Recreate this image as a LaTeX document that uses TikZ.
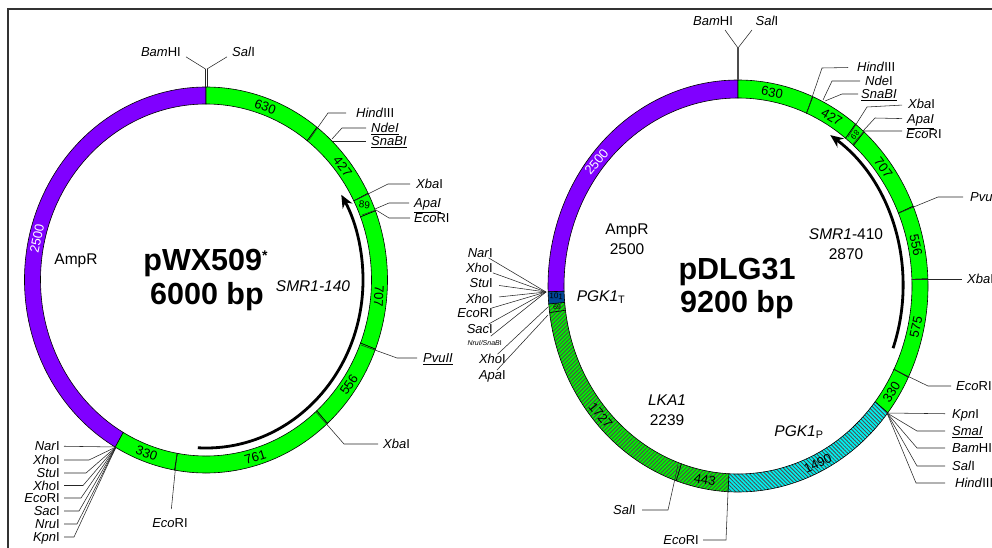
\documentclass[tikz,border=0pt]{standalone}
\usepackage{fontspec}
\usepackage{xcolor}
\setmainfont{Liberation Sans}
\usetikzlibrary{arrows.meta,patterns.meta}

\definecolor{ringgreen}{RGB}{0,255,0}
\definecolor{ringpurple}{RGB}{128,0,255}
\definecolor{lkagreen}{RGB}{0,240,0}
\definecolor{pgkcyan}{RGB}{0,240,240}
\definecolor{termblue}{RGB}{0,70,150}
\definecolor{framegray}{RGB}{51,51,51}

\newlength{\rxo}\newlength{\ryo}\newlength{\rxi}\newlength{\ryi}\newlength{\rxm}\newlength{\rym}
\newcommand{\setring}[4]{%
  \setlength{\rxo}{#1pt}\setlength{\ryo}{#2pt}\setlength{\rxi}{#3pt}\setlength{\ryi}{#4pt}%
  \setlength{\rxm}{\dimexpr(\rxo+\rxi)/2\relax}\setlength{\rym}{\dimexpr(\ryo+\ryi)/2\relax}}
\newcommand{\ringseg}[3]{%
  \draw[seg,#3] ({90-(#1)}:{\rxo} and {\ryo}) arc[start angle={90-(#1)},end angle={90-(#2)},x radius=\rxo,y radius=\ryo]
    -- ({90-(#2)}:{\rxi} and {\ryi}) arc[start angle={90-(#2)},end angle={90-(#1)},x radius=\rxi,y radius=\ryi] -- cycle;}
\newcommand{\ringnum}[4][]{%
  \node[num,rotate=#2,#1] at ({90-(#3)}:{\rxm} and {\rym}) {#4};}

\begin{document}
\begin{tikzpicture}[
  x=1pt, y=-1pt,
  seg/.style={draw=black, line width=0.6pt},
  plain/.style={fill=ringgreen},
  amp/.style={fill=ringpurple},
  lka/.style={preaction={fill=lkagreen}, pattern={Lines[angle=45,distance=2.8pt,line width=0.85pt]}, pattern color=black!70},
  pgk/.style={preaction={fill=pgkcyan}, pattern={Lines[angle=-45,distance=2.8pt,line width=0.85pt]}, pattern color=black!70},
  term/.style={fill=termblue},
  num/.style={font=\fontsize{13}{13}\selectfont, inner sep=0pt},
  site/.style={font=\fontsize{13}{13}\selectfont, text height=9.3pt, text depth=0pt, inner ysep=0pt, inner xsep=5pt},
  gene/.style={font=\fontsize{15.5}{16}\selectfont, inner sep=0pt, align=center},
  title/.style={font=\fontsize{30.5}{30}\bfseries\selectfont, inner sep=0pt},
  lead/.style={draw=black!85, line width=0.55pt},
  smr/.style={draw=black, line width=2.8pt, -{Stealth[length=13pt,width=11pt]}},
]
\useasboundingbox (0,0) rectangle (992,548);
\draw[framegray, line width=2pt] (8,548) -- (8,9) -- (992,9);

% pWX509
\begin{scope}[shift={(206,280)}]
  \setring{181.5}{193}{165.5}{176}
  \ringseg{-150}{0}{amp}
  \ringseg{0}{37.7}{plain}
  \ringseg{37.7}{63.3}{plain}
  \ringseg{63.3}{69}{plain}
  \ringseg{69}{111}{plain}
  \ringseg{111}{138}{plain}
  \ringseg{138}{190}{plain}
  \ringseg{190}{210}{plain}
  \ringnum{-20}{20}{630}
  \ringnum{-52}{52}{427}
  \ringnum[font=\fontsize{10}{10}\selectfont]{-5}{66}{89}
  \ringnum{-92}{95}{707}
  \ringnum{56}{124.5}{556}
  \ringnum{17}{163.5}{761}
  \ringnum{-20}{200}{330}
  \ringnum[text=white]{78}{283}{2500}
  \draw[smr] ({90-183}:157pt and 168pt) arc[start angle={90-183},end angle={90-59.5},x radius=157pt,y radius=168pt];
\end{scope}
\draw[lead] (205.2,87) -- (205.2,69);
\draw[lead] (207.4,87) -- (207.4,69);

\coordinate (r1) at (309,140);
\coordinate (r2) at (332,139);
\coordinate (r3) at (333,141);
\coordinate (r4) at (356,200);
\coordinate (r5) at (375,209);
\coordinate (r6) at (362,215);
\coordinate (r7) at (361,345);
\coordinate (r8) at (316,412);
\coordinate (r9) at (177,453);
\coordinate (r0) at (116,447);

\node[site, anchor=east] (s1) at (186,52) {\textit{Bam}HI};
\node[site, anchor=west] (s2) at (227,52) {\textit{Sal}I};
\node[site, anchor=west, inner xsep=10pt] (s3) at (346,113) {\textit{Hind}III};
\node[site, anchor=west] (s4) at (366,128) {\underline{\textit{NdeI}}};
\node[site, anchor=west] (s5) at (366,141) {\underline{\textit{SnaBI}}};
\node[site, anchor=west, inner xsep=6pt] (s6) at (410,184) {\textit{Xba}I};
\node[site, anchor=west] (s7) at (409,203) {\underline{\textit{ApaI}}};
\node[site, anchor=west, inner xsep=4pt] (s8) at (410,218) {\textit{Eco}RI};
\node[site, anchor=west, inner xsep=6pt] (s9) at (417,358) {\underline{\textit{PvuII}}};
\node[site, anchor=west] (s10) at (378,444) {\textit{Xba}I};
\node[site, anchor=north, inner ysep=8.5pt] (s11) at (170,509) {\textit{Eco}RI};
\node[site, anchor=east, inner xsep=4pt] (s12) at (64,446) {\textit{Nar}I};
\node[site, anchor=east, inner xsep=4pt] (s13) at (64,460) {\textit{Xho}I};
\node[site, anchor=east, inner xsep=4pt] (s14) at (64,473) {\textit{Stu}I};
\node[site, anchor=east, inner xsep=4pt] (s15) at (64,485.5) {\textit{Xho}I};
\node[site, anchor=east, inner xsep=4pt] (s16) at (64,498) {\textit{Eco}RI};
\node[site, anchor=east, inner xsep=4pt] (s17) at (64,511) {\textit{Sac}I};
\node[site, anchor=east, inner xsep=4pt] (s18) at (64,524) {\textit{Nru}I};
\node[site, anchor=east, inner xsep=4pt] (s19) at (64,537) {\textit{Kpn}I};

\draw[lead] (s1.south east) -- (205.5,69);
\draw[lead] (s2.south west) -- (207,69);
\draw[lead] (r1) -- (328,113) -- (s3);
\draw[lead] (r2) -- (342,128) -- (s4);
\draw[lead] (r3) -- (s5);
\draw[lead] (r4) -- (388,184) -- (s6);
\draw[lead] (r5) -- (389,203) -- (s7);
\draw[lead] (r6) -- (376,210) -- (389,218) -- (s8);
\draw[lead] (r7) -- (397,358) -- (s9);
\draw[lead] (r8) -- (344,444) -- (s10);
\draw[lead] (r9) -- (s11);
\draw[lead] (r0) -- (s12);
\draw[lead] (r0) -- (89,460) -- (s13);
\draw[lead] (r0) -- (86,473) -- (s14);
\draw[lead] (r0) -- (83,485.5) -- (s15);
\draw[lead] (r0) -- (81,498) -- (s16);
\draw[lead] (r0) -- (79,511) -- (s17);
\draw[lead] (r0) -- (77,524) -- (s18);
\draw[lead] (r0) -- (74,537) -- (s19);

\node[gene] (n1) at (76,261) {AmpR};
\node[gene] (n2) at (313,286) {\textit{SMR1-140}};
\node[title] (n3) at (205.5,263) {pWX509\raisebox{10pt}{\fontsize{14}{14}\selectfont *}};
\node[title] (n4) at (207,297) {6000 bp};

% pDLG31
\begin{scope}[shift={(738,286)}]
  \setring{190}{206}{174}{188}
  \ringseg{268.4}{360}{amp}
  \ringseg{0}{23.2}{plain}
  \ringseg{23.2}{38.2}{plain}
  \ringseg{38.2}{41.6}{plain}
  \ringseg{41.6}{67.2}{plain}
  \ringseg{67.2}{88}{plain}
  \ringseg{88}{116.3}{plain}
  \ringseg{116.3}{128}{plain}
  \ringseg{128}{183}{pgk}
  \ringseg{183}{199}{lka}
  \ringseg{199}{262.6}{lka}
  \ringseg{262.6}{265}{lka}
  \ringseg{265}{268.4}{term}
  \ringnum{-11}{10.8}{630}
  \ringnum{-31}{31}{427}
  \ringnum[font=\fontsize{8}{8}\selectfont]{-130}{40}{89}
  \ringnum{-53}{53}{707}
  \ringnum{-78}{78}{556}
  \ringnum{78}{102}{575}
  \ringnum{58}{122.5}{330}
  \ringnum{25}{154}{1490}
  \ringnum{-11}{190.5}{443}
  \ringnum{-50}{229}{1727}
  \ringnum[font=\fontsize{8}{8}\selectfont]{-3}{267}{101}
  \ringnum[font=\fontsize{7}{7}\selectfont]{-3}{263.8}{69}
  \ringnum[text=white]{50}{309}{2500}
  \draw[smr] ({90-110}:165pt and 182pt) arc[start angle={90-110},end angle={90-34},x radius=165pt,y radius=182pt];
\end{scope}
\draw[draw=black!70, line width=1.4pt] (738,80) -- (738,48);

\coordinate (q1) at (807,112);
\coordinate (q2) at (823,100);
\coordinate (q3) at (825,101);
\coordinate (q4) at (848,137);
\coordinate (q5) at (863,131);
\coordinate (q6) at (853,144);
\coordinate (q7) at (899,213);
\coordinate (q8) at (912,279);
\coordinate (q9) at (893,369);
\coordinate (q0) at (887,413);
\coordinate (q10) at (728,492);
\coordinate (q11) at (678,465);
\coordinate (q12) at (546,292);
\coordinate (q13) at (548,307);
\coordinate (q14) at (548,315);
\coordinate (yleft) at (725,30);
\coordinate (yright) at (752,30);

\node[site] (t1) at (713,21) {\textit{Bam}HI};
\node[site] (t2) at (767,21) {\textit{Sal}I};
\node[site, anchor=west, inner xsep=9pt] (t3) at (848,67) {\textit{Hind}III};
\node[site, anchor=west] (t4) at (860,81) {\textit{Nde}I};
\node[site, anchor=west, inner xsep=3pt] (t5) at (858,94) {\underline{\textit{SnaBI}}};
\node[site, anchor=west, inner xsep=6pt] (t6) at (902,104) {\textit{Xba}I};
\node[site, anchor=west] (t7) at (902,119) {\underline{\textit{ApaI}}};
\node[site, anchor=west, inner xsep=4pt] (t8) at (902,134) {\textit{Eco}RI};
\node[site, anchor=west, inner xsep=7pt] (t9) at (963,197) {\textit{Pvu}II};
\node[site, anchor=west] (t10) at (962,279) {\textit{Xba}I};
\node[site, anchor=west] (t11) at (951,386) {\textit{Eco}RI};
\node[site, anchor=west, inner xsep=7pt] (t12) at (945,414) {\textit{Kpn}I};
\node[site, anchor=west, inner xsep=7pt] (t13) at (945,431) {\underline{\textit{SmaI}}};
\node[site, anchor=west, inner xsep=7pt] (t14) at (945,448) {\textit{Bam}HI};
\node[site, anchor=west, inner xsep=7pt] (t15) at (945,466) {\textit{Sal}I};
\node[site, anchor=west, inner xsep=10pt] (t16) at (945,483) {\textit{Hind}III};
\node[site, anchor=east, inner xsep=4pt] (t17) at (703,540) {\textit{Eco}RI};
\node[site, anchor=east, inner xsep=6pt] (t18) at (642,510) {\textit{Sal}I};
\node[site, anchor=east, inner xsep=6pt] (t19) at (499,253) {\textit{Nar}I};
\node[site, anchor=east, inner xsep=6pt] (t20) at (499,268) {\textit{Xho}I};
\node[site, anchor=east, inner xsep=6pt] (t21) at (499,283) {\textit{Stu}I};
\node[site, anchor=east, inner xsep=6pt] (t22) at (499,299) {\textit{Xho}I};
\node[site, anchor=east, inner xsep=6pt] (t23) at (499,313) {\textit{Eco}RI};
\node[site, anchor=east, inner xsep=6pt] (t24) at (499,329) {\textit{Sac}I};
\node[site, anchor=east, font=\fontsize{7}{7}\selectfont] (t25) at (507,341) {\textit{NruI/SnaB}I};
\node[site, anchor=east, inner xsep=4pt] (t26) at (510,359) {\textit{Xho}I};
\node[site, anchor=east, inner xsep=4pt] (t27) at (510,375) {\textit{Apa}I};

\draw[lead] (yleft) -- (738,48);
\draw[lead] (yright) -- (738,48);
\draw[lead] (q1) -- (822,68) -- (t3);
\draw[lead] (q2) -- (832,81) -- (t4);
\draw[lead] (q3) -- (842,94) -- (t5);
\draw[lead] (q4) -- (867,107) -- (t6);
\draw[lead] (q5) -- (875,118) -- (t7);
\draw[lead] (q6) -- (864,131) -- (t8.west |- q5);
\draw[lead] (q7) -- (938,197) -- (t9);
\draw[lead] (q8) -- (t10);
\draw[lead] (q9) -- (928,386) -- (t11);
\draw[lead] (q0) -- (t12);
\draw[lead] (q0) -- (917,431) -- (t13);
\draw[lead] (q0) -- (917,448) -- (t14);
\draw[lead] (q0) -- (917,466) -- (t15);
\draw[lead] (q0) -- (916,483) -- (t16);
\draw[lead] (q10) -- (726,540) -- (t17);
\draw[lead] (q11) -- (668,510) -- (t18);
\draw[lead] (q12) -- (t19);
\draw[lead] (q12) -- (t20);
\draw[lead] (q12) -- (t21);
\draw[lead] (q12) -- (t22);
\draw[lead] (q12) -- (t23);
\draw[lead] (q12) -- (t24);
\draw[lead] (q12) -- (t25);
\draw[lead] (q13) -- (t26);
\draw[lead] (q14) -- (t27);

\node[gene] (m1) at (627,239) {AmpR\\[4pt]2500};
\node[gene] (m2) at (846,244) {\textit{SMR1}-410\\[4pt]2870};
\node[gene] (m3) at (667,410) {\textit{LKA1}\\[4pt]2239};
\node[gene] (m4) at (799,432) {\textit{PGK1}\textsubscript{P}};
\node[gene] (m5) at (601,297) {\textit{PGK1}\textsubscript{T}};
\node[title] (m6) at (737,272) {pDLG31};
\node[title] (m7) at (737,305) {9200 bp};
\end{tikzpicture}
\end{document}
